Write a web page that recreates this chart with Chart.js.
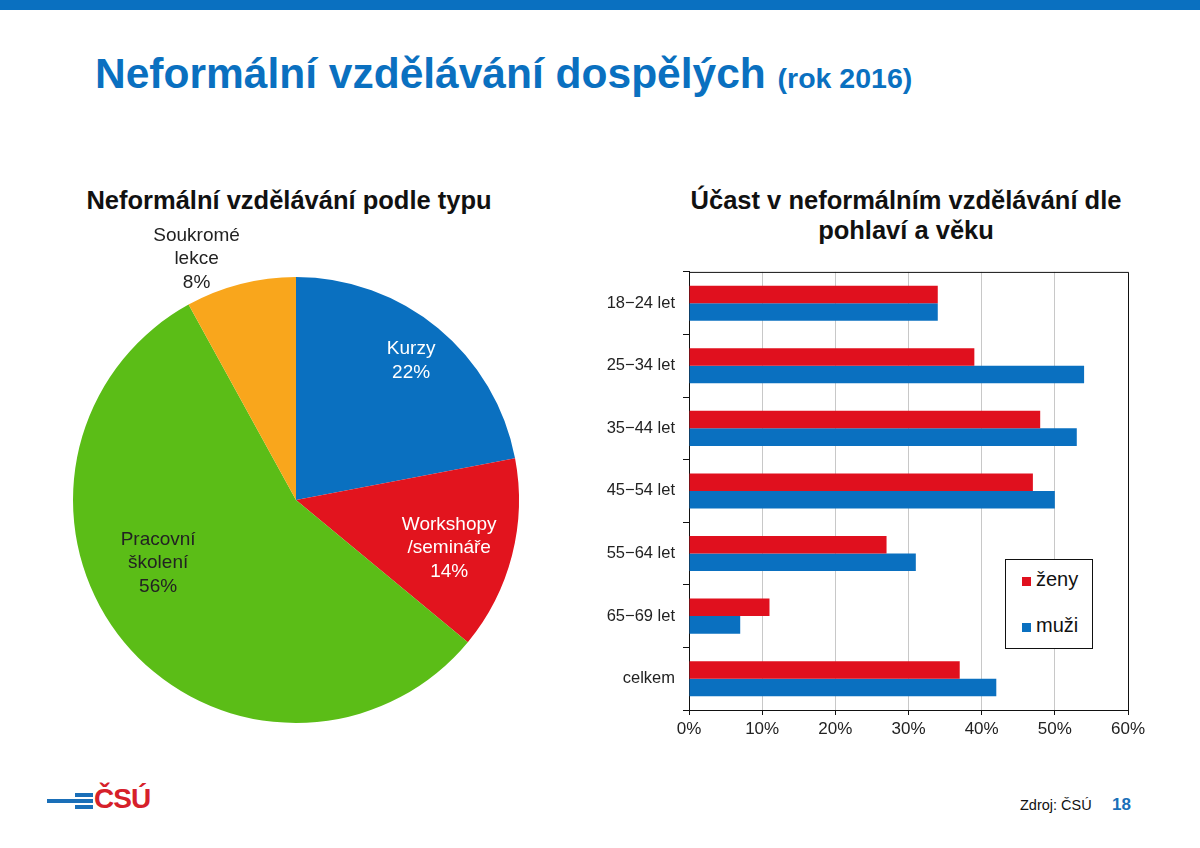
<!DOCTYPE html>
<html lang="cs">
<head>
<meta charset="utf-8">
<script src="https://cdn.jsdelivr.net/npm/chart.js@4.4.1/dist/chart.umd.min.js"></script>
<style>
  body { margin: 0; width: 1200px; height: 848px; background: #fff; position: relative; overflow: hidden;
         font-family: "Liberation Sans", Arial, sans-serif; }
  .topbar { position: absolute; left: 0; top: 0; width: 1200px; height: 10px; background: #0a70c0; }
  .title { position: absolute; left: 95px; top: 50px; color: #0a70c0; font-weight: bold; font-size: 42.5px; white-space: nowrap; }
  .title small { font-size: 28.5px; }
  .sub { position: absolute; font-weight: bold; font-size: 25.5px; color: #111; text-align: center; line-height: 30px; }
  .box { position: absolute; }
  .legend { position: absolute; left: 1005px; top: 559px; width: 86px; height: 88px; border: 1px solid #111; background: #fff; }
  .legend div { position: absolute; left: 16px; font-size: 20px; color: #111; }
  .legend span { display: inline-block; width: 9px; height: 9px; margin-right: 5px; }
  .logo div { position: absolute; background: #1a6fb8; }
  .csu { position: absolute; left: 94px; top: 783px; color: #d6202a; font-weight: bold; font-size: 28px; letter-spacing: -1px; }
  .zdroj { position: absolute; left: 1020px; top: 797px; font-size: 14.5px; color: #111; }
  .page { position: absolute; left: 1112px; top: 795px; font-size: 17px; font-weight: bold; color: #1a6fb8; }
</style>
</head>
<body>
<div class="topbar"></div>
<div class="title">Neformální vzdělávání dospělých <small>(rok 2016)</small></div>

<div class="sub" style="left:49px; top:185px; width:480px;">Neformální vzdělávání podle typu</div>
<div class="sub" style="left:650px; top:185px; width:512px;">Účast v neformálním vzdělávání dle<br>pohlaví a věku</div>

<div class="box" style="left:43px; top:207px; width:506px; height:536px;"><canvas id="pieChart"></canvas></div>
<div class="box" style="left:590px; top:254px; width:560px; height:496px;"><canvas id="barChart"></canvas></div>
<div class="legend" id="barLegend"></div>

<div class="logo">
  <div style="left:75px; top:793px; width:18px; height:4px;"></div>
  <div style="left:47px; top:799px; width:46px; height:4px;"></div>
  <div style="left:75px; top:805px; width:18px; height:4px;"></div>
</div>
<div class="csu">ČSÚ</div>
<div class="zdroj">Zdroj: ČSÚ</div>
<div class="page">18</div>

<script>
// ── Data ──
const pieLabels = [['Kurzy'], ['Workshopy', '/semináře'], ['Pracovní', 'školení'], ['Soukromé', 'lekce']];
const pieValues = [22, 14, 56, 8];
const pieColors = ['#0a70c0', '#e2141e', '#5bbd17', '#f9a61c'];
const pieTextColors = ['#fff', '#fff', '#222', '#222'];
// radius fraction and angle shift (deg) for each slice label
const pieLabelPlace = [{ r: 0.81, a: 0 }, { r: 0.72, a: 3 }, { r: 0.68, a: 15 }, { r: 1.17, a: -8 }];

const ageGroups = ['18−24 let', '25−34 let', '35−44 let', '45−54 let', '55−64 let', '65−69 let', 'celkem'];
const zenyValues = [34, 39, 48, 47, 27, 11, 37];
const muziValues = [34, 54, 53, 50, 31, 7, 42];
const xTicks = [0, 10, 20, 30, 40, 50, 60];

const FONT = '"Liberation Sans", Arial, sans-serif';

// ── Pie ──
const pieLabelPlugin = {
  id: 'pieLabels',
  afterDatasetsDraw(chart) {
    const ctx = chart.ctx;
    const meta = chart.getDatasetMeta(0);
    ctx.save();
    ctx.font = '19px ' + FONT;
    ctx.textAlign = 'center';
    ctx.textBaseline = 'middle';
    meta.data.forEach((arc, i) => {
      const p = arc.getProps(['x', 'y', 'startAngle', 'endAngle', 'outerRadius'], true);
      const ang = (p.startAngle + p.endAngle) / 2 + pieLabelPlace[i].a * Math.PI / 180;
      const r = p.outerRadius * pieLabelPlace[i].r;
      const cx = p.x + Math.cos(ang) * r;
      const cy = p.y + Math.sin(ang) * r;
      const lines = pieLabels[i].concat([pieValues[i] + '%']);
      const lh = 23.5;
      ctx.fillStyle = pieTextColors[i];
      lines.forEach((t, j) => {
        ctx.fillText(t, cx, cy + (j - (lines.length - 1) / 2) * lh);
      });
    });
    ctx.restore();
  }
};

new Chart(document.getElementById('pieChart'), {
  type: 'pie',
  data: {
    labels: pieLabels.map(l => l.join(' ')),
    datasets: [{ data: pieValues, backgroundColor: pieColors, borderWidth: 0 }]
  },
  options: {
    responsive: true, maintainAspectRatio: false, animation: false,
    layout: { padding: { left: 30, right: 30, top: 70, bottom: 20 } },
    plugins: { legend: { display: false }, tooltip: { enabled: false } }
  },
  plugins: [pieLabelPlugin]
});

// ── Bars ──
const framePlugin = {
  id: 'frame',
  afterDraw(chart) {
    const a = chart.chartArea;
    const ctx = chart.ctx;
    ctx.save();
    ctx.strokeStyle = '#111';
    ctx.lineWidth = 1;
    ctx.beginPath();
    ctx.moveTo(a.left, a.top + 0.5);
    ctx.lineTo(a.right + 0.5, a.top + 0.5);
    ctx.lineTo(a.right + 0.5, a.bottom);
    ctx.stroke();
    ctx.restore();
  }
};

const barChart = new Chart(document.getElementById('barChart'), {
  type: 'bar',
  data: {
    labels: ageGroups,
    datasets: [
      { label: 'ženy', data: zenyValues, backgroundColor: '#e0101e' },
      { label: 'muži', data: muziValues, backgroundColor: '#0a70c0' }
    ]
  },
  options: {
    indexAxis: 'y',
    responsive: true, maintainAspectRatio: false, animation: false,
    layout: { padding: { top: 10, right: 22, left: 0, bottom: 0 } },
    datasets: { bar: { categoryPercentage: 0.56, barPercentage: 1 } },
    plugins: { legend: { display: false }, tooltip: { enabled: false } },
    scales: {
      x: {
        min: 0, max: 60,
        afterBuildTicks: s => { s.ticks = xTicks.map(v => ({ value: v })); },
        afterFit: s => { s.height = 40; },
        ticks: { callback: v => v + '%', color: '#222', font: { size: 17, family: FONT }, padding: 4, maxRotation: 0 },
        grid: { color: '#c8c8c8', tickColor: '#111', tickLength: 5 },
        border: { color: '#111' }
      },
      y: {
        afterFit: s => { s.width = 99; },
        ticks: { color: '#222', font: { size: 16.5, family: FONT }, padding: 8 },
        grid: { drawOnChartArea: false, color: '#111', tickLength: 6 },
        border: { color: '#111' }
      }
    }
  },
  plugins: [framePlugin]
});

// legend built from the datasets
const legendEl = document.getElementById('barLegend');
barChart.data.datasets.forEach((ds, i) => {
  const item = document.createElement('div');
  item.style.top = (8 + i * 46) + 'px';
  item.innerHTML = '<span style="background:' + ds.backgroundColor + '"></span>' + ds.label;
  legendEl.appendChild(item);
});
</script>
</body>
</html>
